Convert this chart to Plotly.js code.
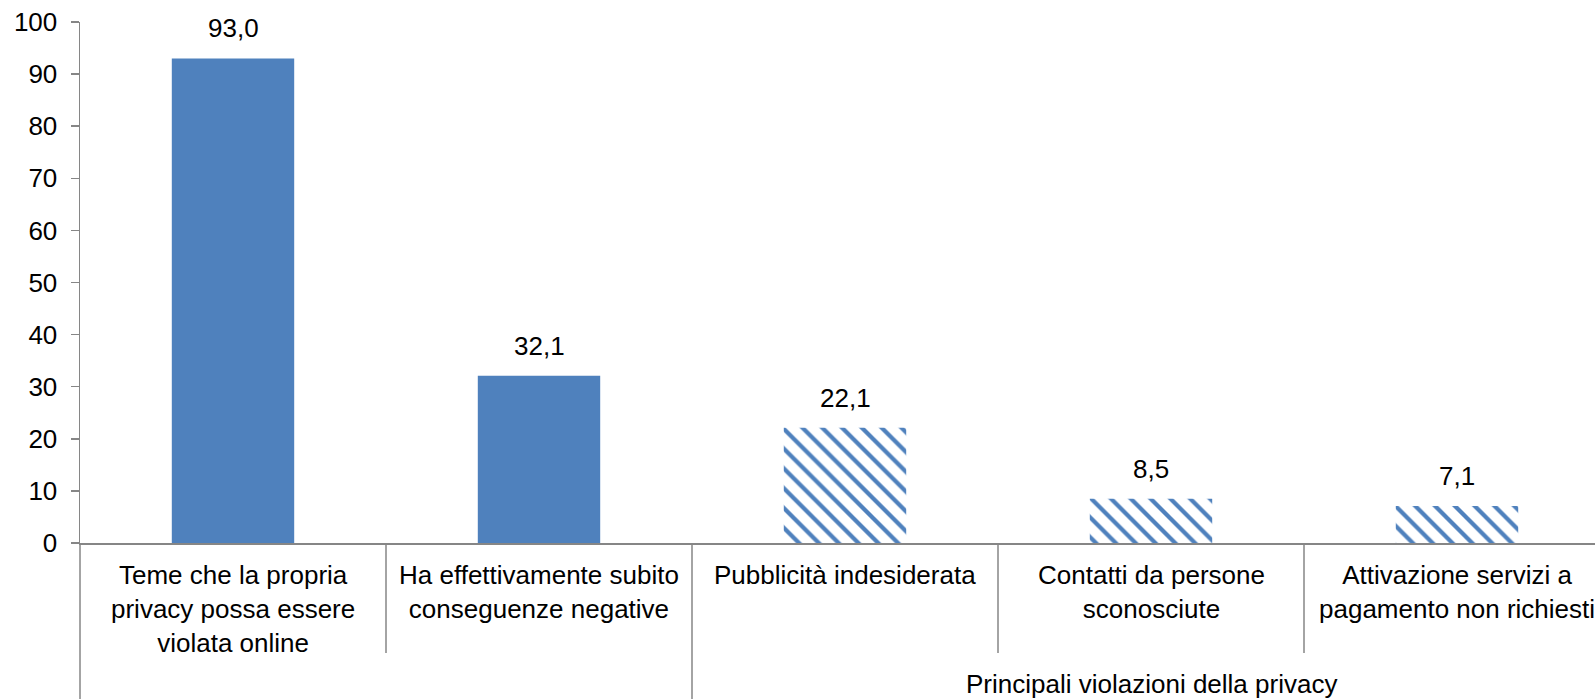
<!DOCTYPE html>
<html><head><meta charset="utf-8">
<script src="https://cdn.plot.ly/plotly-3.0.1.min.js"></script>
<style>html,body{margin:0;padding:0;overflow:hidden;background:#fff}</style>
</head><body><div id="chart" style="width:1625px;height:699px"></div>
<script>
const categories = [
  "Teme che la propria<br>privacy possa essere<br>violata online",
  "Ha effettivamente subito<br>conseguenze negative",
  "Pubblicità indesiderata",
  "Contatti da persone<br>sconosciute",
  "Attivazione servizi a<br>pagamento non richiesti"
];
const groupLabels = ["", "Principali violazioni della privacy"];
const groupOf = [0, 0, 1, 1, 1];
const values = [93.0, 32.1, 22.1, 8.5, 7.1];
const hatched = [false, false, true, true, true];
const yTicks = [0, 10, 20, 30, 40, 50, 60, 70, 80, 90, 100];

const BLUE = '#4F81BD', GREY = '#868686';
const FONT = 'Liberation Sans, Arial, sans-serif';
const n = categories.length;
const idx = categories.map((c, i) => i);

const solidIdx = idx.filter(i => !hatched[i]);
const hatchIdx = idx.filter(i => hatched[i]);

const traces = [
  {type: 'bar', x: solidIdx.map(i => categories[i]), y: solidIdx.map(i => values[i]),
   marker: {color: BLUE, line: {width: 0}}, hoverinfo: 'none'},
  {type: 'bar', x: hatchIdx.map(i => categories[i]), y: hatchIdx.map(i => values[i]),
   marker: {color: '#ffffff', line: {width: 0},
            pattern: {shape: '\\', fgcolor: BLUE, bgcolor: '#ffffff', size: 14, solidity: 0.3, fillmode: 'replace'}},
   hoverinfo: 'none'}
];

const annotations = [];
idx.forEach(i => {
  annotations.push({x: categories[i], y: values[i], xref: 'x', yref: 'y', yanchor: 'bottom',
    yshift: 13, showarrow: false, text: values[i].toFixed(1).replace('.', ','),
    font: {family: FONT, size: 26, color: '#000'}});
  annotations.push({x: categories[i], y: 0, xref: 'x', yref: 'paper', yanchor: 'top',
    yshift: -15, showarrow: false, text: categories[i],
    font: {family: FONT, size: 26, color: '#000'}});
});
groupLabels.forEach((g, gi) => {
  if (!g) return;
  const members = idx.filter(i => groupOf[i] === gi);
  const center = (members[0] + members[members.length - 1]) / 2;
  annotations.push({x: center, y: -0.27, xref: 'x', yref: 'paper', yanchor: 'middle',
    showarrow: false, text: g, font: {family: FONT, size: 26, color: '#000'}});
});

const shapes = [];
for (let k = 0; k < n; k++) {
  const isGroupStart = (k === 0) || groupOf[k] !== groupOf[k - 1];
  shapes.push({type: 'line', xref: 'paper', yref: 'paper', x0: k / n, x1: k / n,
    y0: 0, y1: isGroupStart ? -0.35 : -0.211, line: {color: GREY, width: 1.5}});
}

const layout = {
  width: 1625, height: 699,
  margin: {l: 80, r: 15, t: 22, b: 156},
  paper_bgcolor: '#fff', plot_bgcolor: '#fff',
  showlegend: false, barmode: 'group', bargap: 0.6,
  font: {family: FONT, size: 26, color: '#000'},
  xaxis: {type: 'category', categoryarray: categories, categoryorder: 'array',
    showticklabels: false, ticks: '', showline: true, linecolor: GREY, linewidth: 1.5,
    showgrid: false, zeroline: false, range: [-0.5, n - 0.5]},
  yaxis: {range: [0, 100], tickvals: yTicks, ticktext: yTicks.map(String),
    ticks: 'outside', ticklen: 8, tickwidth: 1.5, tickcolor: GREY,
    showline: true, linecolor: GREY, linewidth: 1.5, showgrid: false, zeroline: false,
    ticklabelstandoff: 8, tickfont: {family: FONT, size: 26, color: '#000'}},
  annotations: annotations, shapes: shapes
};

Plotly.newPlot('chart', traces, layout, {displayModeBar: false, staticPlot: true});
</script>
</body></html>
